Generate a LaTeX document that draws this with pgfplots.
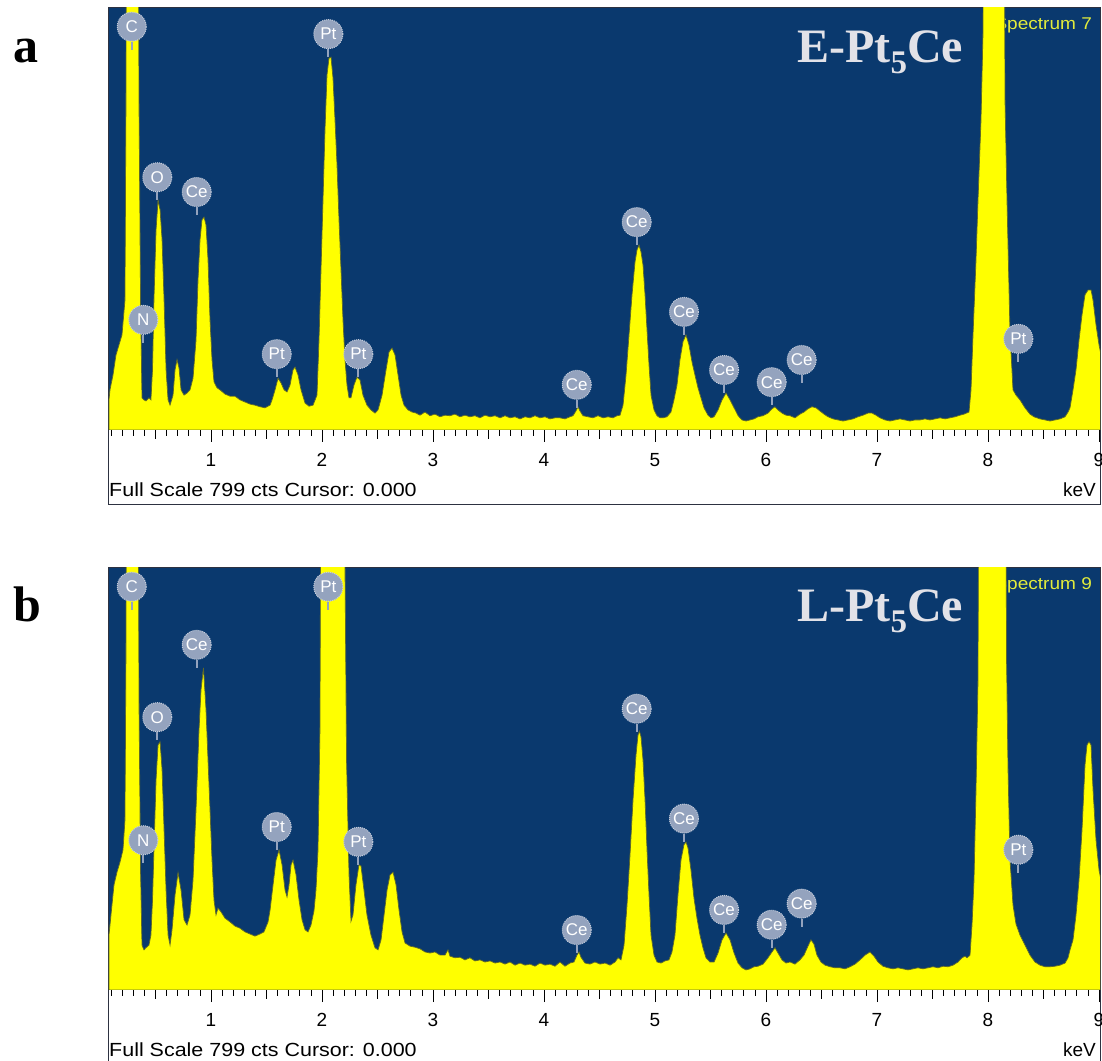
\documentclass[border=0pt]{standalone}
\usepackage{pgfplots}
\pgfplotsset{compat=1.18}
\usepackage{pgfplotstable}
\usepackage{graphicx}
\usepackage{fontspec}
\setmainfont{Liberation Serif}
\newfontfamily\arial{Liberation Sans}

\definecolor{edsbg}{RGB}{10,57,110}
\definecolor{edsyel}{RGB}{255,255,0}
\definecolor{edsedge}{RGB}{95,105,40}
\definecolor{lblc}{RGB}{148,163,190}
\definecolor{titlec}{RGB}{226,226,232}
\definecolor{specc}{RGB}{225,235,60}
\definecolor{framec}{RGB}{45,50,65}

% EDS spectrum, E-Pt5Ce (energy in keV, counts)
\pgfplotstableread{
keV cts
0.081 57
0.090 76
0.117 104
0.144 142
0.171 161
0.198 180
0.225 246
0.234 625
0.243 1400
0.290 1600
0.338 1400
0.351 625
0.365 246
0.378 61
0.396 57
0.414 55
0.441 61
0.459 57
0.473 114
0.486 246
0.505 379
0.523 435
0.541 417
0.559 360
0.577 246
0.595 114
0.613 57
0.631 47
0.658 66
0.676 114
0.694 133
0.712 117
0.730 76
0.757 66
0.784 70
0.811 76
0.838 98
0.865 170
0.883 284
0.901 360
0.919 398
0.937 403
0.955 388
0.973 322
0.991 208
1.009 133
1.027 91
1.054 80
1.081 76
1.126 68
1.171 64
1.216 64
1.261 57
1.306 53
1.351 49
1.396 47
1.441 44
1.486 42
1.532 47
1.550 57
1.577 76
1.604 98
1.631 89
1.658 76
1.685 72
1.712 85
1.739 114
1.757 119
1.784 104
1.811 76
1.847 51
1.883 45
1.919 47
1.955 66
1.973 170
1.991 303
2.009 435
2.027 568
2.045 672
2.063 704
2.081 706
2.099 666
2.117 587
2.135 502
2.153 398
2.171 303
2.189 208
2.207 133
2.225 85
2.243 61
2.261 61
2.288 85
2.315 100
2.342 95
2.369 66
2.405 47
2.441 38
2.477 32
2.505 38
2.541 66
2.577 114
2.604 148
2.631 155
2.658 142
2.685 104
2.712 66
2.739 47
2.775 38
2.811 34
2.847 32
2.883 28
2.928 34
2.973 27
3.018 30
3.063 25
3.108 28
3.153 27
3.198 30
3.243 25
3.288 28
3.333 25
3.378 27
3.423 23
3.468 28
3.514 25
3.559 27
3.604 23
3.649 27
3.694 23
3.739 25
3.784 21
3.829 25
3.874 23
3.919 27
3.964 23
4.009 25
4.054 21
4.099 23
4.144 23
4.189 21
4.234 25
4.261 27
4.288 36
4.306 44
4.324 36
4.351 27
4.396 25
4.441 23
4.486 27
4.532 23
4.577 25
4.622 23
4.658 27
4.685 28
4.712 47
4.739 104
4.766 180
4.793 256
4.820 318
4.838 341
4.856 350
4.874 337
4.892 312
4.910 256
4.928 189
4.946 123
4.964 66
4.991 38
5.018 27
5.045 23
5.072 23
5.108 25
5.144 34
5.171 57
5.198 85
5.225 133
5.252 167
5.279 180
5.306 161
5.333 129
5.360 104
5.387 80
5.414 61
5.441 42
5.477 28
5.505 23
5.532 25
5.568 38
5.604 57
5.640 70
5.676 57
5.712 42
5.748 27
5.784 19
5.820 17
5.856 19
5.892 21
5.928 25
5.973 27
6.018 32
6.054 40
6.081 44
6.108 38
6.144 32
6.180 28
6.216 27
6.261 23
6.306 30
6.342 34
6.378 40
6.414 44
6.450 42
6.486 36
6.523 30
6.559 25
6.604 21
6.649 19
6.694 17
6.739 19
6.784 21
6.829 25
6.874 28
6.919 32
6.955 32
6.991 28
7.027 23
7.072 19
7.117 17
7.162 19
7.207 21
7.252 19
7.297 17
7.342 19
7.387 19
7.432 21
7.477 19
7.523 21
7.568 23
7.613 21
7.658 23
7.703 25
7.748 28
7.784 30
7.829 34
7.847 76
7.865 180
7.892 322
7.910 435
7.937 587
7.955 752
7.968 1400
8.054 1600
8.140 1400
8.153 625
8.171 435
8.198 184
8.225 76
8.252 66
8.288 57
8.333 42
8.378 30
8.414 25
8.468 21
8.514 19
8.559 17
8.604 19
8.649 21
8.694 25
8.721 34
8.739 42
8.766 76
8.793 114
8.820 170
8.847 218
8.874 256
8.901 265
8.928 265
8.946 246
8.973 199
9.000 161
9.018 142
}\specE

% EDS spectrum, L-Pt5Ce (energy in keV, counts)
\pgfplotstableread{
keV cts
0.081 104
0.099 142
0.126 199
0.153 223
0.180 242
0.207 265
0.225 322
0.234 644
0.243 1400
0.290 1600
0.338 1400
0.351 549
0.365 227
0.378 85
0.396 76
0.414 80
0.441 85
0.459 104
0.473 170
0.486 265
0.505 398
0.523 464
0.541 470
0.559 417
0.577 303
0.595 189
0.613 104
0.631 85
0.649 114
0.676 180
0.703 222
0.730 189
0.757 133
0.784 123
0.811 142
0.838 208
0.865 341
0.892 492
0.910 568
0.932 610
0.955 530
0.973 435
0.991 341
1.009 246
1.027 170
1.045 142
1.063 155
1.090 148
1.126 136
1.171 129
1.216 121
1.261 117
1.306 110
1.351 106
1.396 102
1.441 106
1.477 110
1.514 129
1.532 151
1.559 199
1.586 246
1.613 265
1.640 237
1.667 189
1.685 176
1.703 199
1.721 237
1.739 246
1.766 218
1.793 170
1.820 133
1.847 114
1.874 110
1.901 123
1.928 150
1.946 190
1.964 265
1.982 498
1.995 1400
2.108 1600
2.198 1400
2.207 800
2.221 435
2.243 220
2.261 130
2.279 142
2.306 199
2.333 237
2.351 235
2.378 189
2.405 142
2.441 104
2.477 80
2.505 76
2.532 95
2.559 142
2.586 189
2.613 218
2.640 223
2.667 199
2.694 151
2.721 110
2.748 89
2.793 83
2.838 81
2.883 78
2.928 72
2.973 70
3.018 72
3.063 66
3.108 66
3.135 76
3.153 64
3.198 61
3.243 62
3.288 57
3.333 61
3.378 55
3.423 57
3.468 53
3.514 55
3.559 51
3.604 53
3.649 49
3.694 53
3.739 47
3.784 51
3.829 47
3.874 49
3.919 45
3.964 51
4.009 47
4.054 49
4.099 45
4.144 53
4.189 45
4.234 51
4.270 53
4.297 66
4.315 72
4.333 62
4.369 51
4.414 49
4.459 53
4.505 49
4.550 51
4.595 47
4.640 53
4.667 61
4.694 57
4.721 85
4.748 161
4.775 256
4.802 360
4.829 445
4.847 483
4.860 490
4.874 479
4.892 435
4.910 360
4.928 265
4.946 180
4.964 104
4.991 66
5.018 53
5.054 51
5.090 55
5.126 57
5.153 72
5.180 104
5.207 180
5.234 246
5.261 275
5.279 280
5.297 269
5.324 227
5.351 174
5.378 136
5.405 104
5.432 80
5.459 61
5.495 53
5.532 53
5.568 70
5.604 95
5.640 108
5.676 95
5.712 70
5.748 51
5.784 42
5.820 38
5.856 40
5.892 44
5.928 45
5.973 49
6.018 61
6.054 72
6.081 80
6.108 70
6.144 57
6.180 51
6.216 53
6.261 49
6.306 57
6.342 66
6.378 83
6.405 95
6.432 87
6.459 66
6.495 53
6.532 47
6.577 44
6.622 42
6.667 42
6.712 40
6.757 44
6.802 49
6.847 57
6.892 66
6.937 72
6.973 64
7.009 53
7.054 45
7.099 42
7.144 40
7.189 42
7.234 40
7.279 38
7.324 40
7.369 42
7.414 40
7.459 42
7.505 44
7.550 42
7.595 45
7.640 44
7.685 47
7.730 53
7.766 61
7.793 64
7.811 61
7.838 66
7.856 123
7.874 208
7.892 379
7.910 587
7.923 1400
8.036 1600
8.153 1400
8.167 625
8.180 420
8.198 246
8.225 161
8.252 125
8.288 104
8.333 85
8.378 66
8.423 53
8.468 47
8.514 44
8.559 44
8.604 45
8.649 47
8.694 51
8.721 61
8.739 76
8.766 95
8.793 142
8.820 208
8.847 303
8.874 426
8.892 464
8.910 470
8.928 464
8.946 379
8.973 284
9.000 227
9.018 208
}\specL

\newcommand\uifont{\arial\fontsize{19bp}{22bp}\selectfont}
\newcommand\elemfont{\arial\fontsize{17bp}{17bp}\selectfont}

% peak marker: vertical stem plus round element tag
\newcommand\elem[3]{%
  \draw[lblc, line width=2bp] (axis cs:#1,#2) -- ++(0bp,8bp)
    node[anchor=south, circle, fill=lblc, draw=lblc!55!white, densely dotted,
         line width=1bp, inner sep=0pt, minimum size=29bp,
         text=white, font=\elemfont] {#3};}

\pgfplotsset{
  edsaxis/.style={
    scale only axis, width=992bp, height=422bp, anchor=north west,
    xmin=0.072, xmax=9.009, ymin=0, ymax=799,
    axis background/.style={fill=edsbg},
    axis line style={framec, line width=1bp},
    ytick=\empty,
    xtick={0,...,9}, minor x tick num=9,
    extra x ticks={0.5,1.5,...,8.5}, extra x tick labels={},
    extra x tick style={major tick length=9bp},
    xtick pos=left, tick align=outside,
    major tick length=12bp, minor tick length=6bp,
    every tick/.append style={black, line width=0.8bp},
    every minor tick/.append style={black, line width=0.8bp},
    xticklabel style={font=\uifont, inner sep=0pt, anchor=center, yshift=-18bp},
    /pgf/number format/assume math mode=true,
  },
  spec/.style={fill=edsyel, draw=edsedge, line width=0.7bp},
}

\begin{document}
\begin{tikzpicture}
\useasboundingbox (0,0) rectangle (1102bp,1061bp);

% ---------------- panel a ----------------
\draw[framec, line width=1bp] (108bp,1053bp) -- (108bp,556bp) -- (1100.5bp,556bp) -- (1100.5bp,631bp);
\begin{axis}[edsaxis, at={(108bp,1053bp)}]
  \node[anchor=east, text=specc, font=\arial\fontsize{17bp}{17bp}\selectfont, inner sep=0pt]
    at (rel axis cs:0.992,0.96) {\scalebox{1.12}[1]{Spectrum 7}};
  \addplot[spec] table[x=keV, y=cts] {\specE} \closedcycle;
  \elem{0.286}{720}{C}
  \elem{0.390}{165}{N}
  \elem{0.516}{435}{O}
  \elem{0.871}{407}{Ce}
  \elem{1.592}{100}{Pt}
  \elem{2.057}{706}{Pt}
  \elem{2.327}{100}{Pt}
  \elem{4.295}{42}{Ce}
  \elem{4.835}{350}{Ce}
  \elem{5.261}{180}{Ce}
  \elem{5.622}{70}{Ce}
  \elem{6.051}{47}{Ce}
  \elem{6.321}{89}{Ce}
  \elem{8.273}{129}{Pt}
\end{axis}
\node[anchor=base west, text=titlec, inner sep=0pt,
      font=\bfseries\fontsize{48bp}{50bp}\selectfont] at (797bp,998bp)
  {E-Pt\raisebox{-11bp}{\fontsize{33bp}{33bp}\selectfont 5}Ce};
\node[anchor=west, inner sep=0pt, font=\uifont] at (109bp,571bp)
  {\scalebox{1.13}[1]{Full Scale 799 cts Cursor: 0.000}};
\node[anchor=east, inner sep=0pt, font=\uifont] at (1096bp,571bp) {keV};
\node[anchor=base west, inner sep=0pt, font=\bfseries\fontsize{50bp}{50bp}\selectfont]
  at (13bp,998bp) {a};

% ---------------- panel b ----------------
\draw[framec, line width=1bp] (108bp,493bp) -- (108bp,-5bp);
\draw[framec, line width=1bp] (1100.5bp,71bp) -- (1100.5bp,-5bp);
\begin{axis}[edsaxis, at={(108bp,493bp)}]
  \node[anchor=east, text=specc, font=\arial\fontsize{17bp}{17bp}\selectfont, inner sep=0pt]
    at (rel axis cs:0.992,0.96) {\scalebox{1.12}[1]{Spectrum 9}};
  \addplot[spec] table[x=keV, y=cts] {\specL} \closedcycle;
  \elem{0.286}{720}{C}
  \elem{0.390}{240}{N}
  \elem{0.516}{473}{O}
  \elem{0.871}{610}{Ce}
  \elem{1.592}{265}{Pt}
  \elem{2.057}{720}{Pt}
  \elem{2.327}{237}{Pt}
  \elem{4.295}{70}{Ce}
  \elem{4.835}{489}{Ce}
  \elem{5.261}{281}{Ce}
  \elem{5.622}{108}{Ce}
  \elem{6.051}{80}{Ce}
  \elem{6.321}{120}{Ce}
  \elem{8.273}{222}{Pt}
\end{axis}
\node[anchor=base west, text=titlec, inner sep=0pt,
      font=\bfseries\fontsize{48bp}{50bp}\selectfont] at (797bp,439bp)
  {L-Pt\raisebox{-11bp}{\fontsize{33bp}{33bp}\selectfont 5}Ce};
\node[anchor=west, inner sep=0pt, font=\uifont] at (109bp,11bp)
  {\scalebox{1.13}[1]{Full Scale 799 cts Cursor: 0.000}};
\node[anchor=east, inner sep=0pt, font=\uifont] at (1096bp,11bp) {keV};
\node[anchor=base west, inner sep=0pt, font=\bfseries\fontsize{50bp}{50bp}\selectfont]
  at (13bp,439bp) {b};
\end{tikzpicture}
\end{document}
